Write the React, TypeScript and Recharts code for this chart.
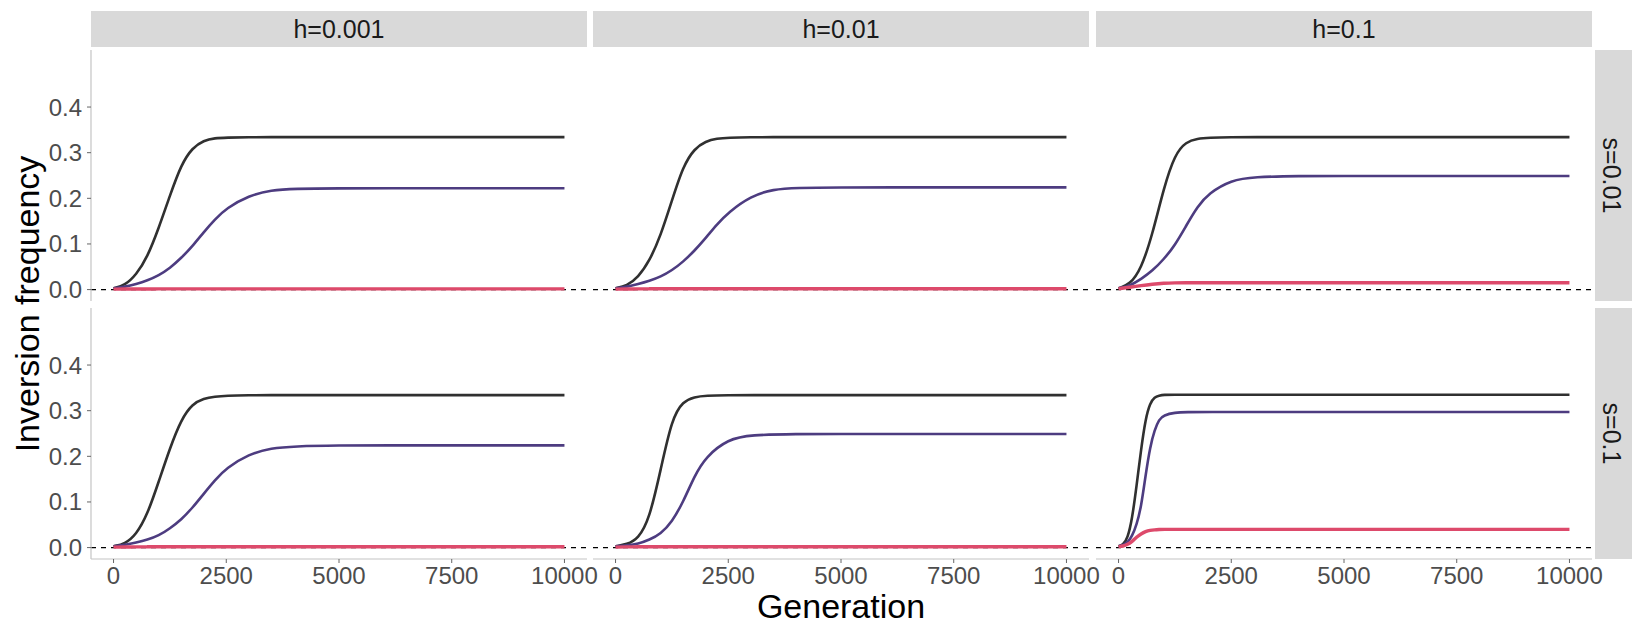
import React from 'react';
import { LineChart, Line, XAxis, YAxis, ReferenceLine } from 'recharts';

const FONT = '"Liberation Sans", Arial, Helvetica, sans-serif';

const H_LABELS = ['h=0.001', 'h=0.01', 'h=0.1'];
const S_LABELS = ['s=0.01', 's=0.1'];
const X_TICKS = [0, 2500, 5000, 7500, 10000];
const Y_TICKS = [0, 0.1, 0.2, 0.3, 0.4];
const X_DOMAIN = [-500, 10500];
const Y_DOMAIN = [-0.025, 0.525];

const GENS_A = [0, 250, 500, 750, 1000, 1250, 1500, 1750, 2000, 2250, 2500, 3000, 3500, 4000, 5000, 6000, 8000, 10000];
const GENS_B = [0, 250, 500, 750, 1000, 1250, 1500, 1750, 2000, 2500, 3000, 4000, 5000, 6000, 8000, 10000];
const GENS_C = [0, 100, 200, 300, 400, 500, 600, 700, 800, 900, 1000, 1250, 1500, 2000, 3000, 5000, 7500, 10000];

// s=0.01, h=0.001
const S1H1_BLACK = [0.003, 0.009, 0.032, 0.071, 0.134, 0.206, 0.274, 0.311, 0.327, 0.332, 0.333, 0.334, 0.334, 0.334, 0.334, 0.334, 0.334, 0.334];
const S1H1_PURPLE = [0.003, 0.006, 0.012, 0.02, 0.031, 0.047, 0.069, 0.095, 0.126, 0.154, 0.178, 0.206, 0.218, 0.221, 0.222, 0.222, 0.222, 0.222];
const S1H1_PINK = [0.001, 0.0012, 0.0013, 0.0014, 0.0015, 0.0015, 0.0015, 0.0015, 0.0015, 0.0015, 0.0015, 0.0015, 0.0015, 0.0015, 0.0015, 0.0015, 0.0015, 0.0015];
// s=0.01, h=0.01
const S1H2_BLACK = [0.003, 0.008, 0.027, 0.062, 0.118, 0.195, 0.271, 0.309, 0.325, 0.331, 0.333, 0.334, 0.334, 0.334, 0.334, 0.334, 0.334, 0.334];
const S1H2_PURPLE = [0.003, 0.006, 0.012, 0.019, 0.028, 0.042, 0.061, 0.085, 0.113, 0.143, 0.169, 0.205, 0.22, 0.223, 0.224, 0.224, 0.224, 0.224];
const S1H2_PINK = [0.001, 0.0013, 0.0015, 0.0017, 0.0018, 0.0019, 0.002, 0.002, 0.002, 0.002, 0.002, 0.002, 0.002, 0.002, 0.002, 0.002, 0.002, 0.002];
// s=0.01, h=0.1
const S1H3_BLACK = [0.003, 0.011, 0.045, 0.12, 0.222, 0.297, 0.324, 0.331, 0.333, 0.334, 0.334, 0.334, 0.334, 0.334, 0.334, 0.334];
const S1H3_PURPLE = [0.003, 0.008, 0.023, 0.041, 0.066, 0.097, 0.14, 0.182, 0.211, 0.24, 0.247, 0.249, 0.249, 0.249, 0.249, 0.249];
const S1H3_PINK = [0.002, 0.005, 0.009, 0.012, 0.014, 0.0148, 0.015, 0.015, 0.015, 0.015, 0.015, 0.015, 0.015, 0.015, 0.015, 0.015];
// s=0.1, h=0.001
const S2H1_BLACK = [0.003, 0.008, 0.028, 0.072, 0.144, 0.218, 0.281, 0.315, 0.327, 0.331, 0.333, 0.334, 0.334, 0.334, 0.334, 0.334, 0.334, 0.334];
const S2H1_PURPLE = [0.003, 0.006, 0.011, 0.017, 0.026, 0.042, 0.061, 0.087, 0.118, 0.148, 0.174, 0.205, 0.218, 0.222, 0.224, 0.224, 0.224, 0.224];
const S2H1_PINK = [0.001, 0.0013, 0.0015, 0.0017, 0.0018, 0.0019, 0.002, 0.002, 0.002, 0.002, 0.002, 0.002, 0.002, 0.002, 0.002, 0.002, 0.002, 0.002];
// s=0.1, h=0.01
const S2H2_BLACK = [0.003, 0.007, 0.019, 0.062, 0.17, 0.283, 0.321, 0.33, 0.333, 0.334, 0.334, 0.334, 0.334, 0.334, 0.334, 0.334];
const S2H2_PURPLE = [0.003, 0.005, 0.008, 0.017, 0.03, 0.056, 0.1, 0.157, 0.199, 0.238, 0.247, 0.249, 0.249, 0.249, 0.249, 0.249];
const S2H2_PINK = [0.001, 0.0015, 0.0018, 0.002, 0.002, 0.002, 0.002, 0.002, 0.002, 0.002, 0.002, 0.002, 0.002, 0.002, 0.002, 0.002];
// s=0.1, h=0.1
const S2H3_BLACK = [0.003, 0.006, 0.02, 0.062, 0.135, 0.216, 0.283, 0.317, 0.33, 0.333, 0.335, 0.335, 0.335, 0.335, 0.335, 0.335, 0.335, 0.335];
const S2H3_PURPLE = [0.003, 0.005, 0.011, 0.025, 0.05, 0.088, 0.159, 0.221, 0.258, 0.281, 0.29, 0.296, 0.297, 0.297, 0.297, 0.297, 0.297, 0.297];
const S2H3_PINK = [0.002, 0.003, 0.007, 0.013, 0.023, 0.03, 0.0355, 0.038, 0.039, 0.0395, 0.04, 0.04, 0.04, 0.04, 0.04, 0.04, 0.04, 0.04];

const COLORS = { black: '#303030', purple: '#4D3C80', pink: '#DD4A6B' };

type Pt = { g: number; v: number };
const toSeries = (gens: number[], vals: number[]): Pt[] => gens.map((g, i) => ({ g, v: vals[i] }));

const PANELS = [
  [
    { gens: GENS_A, black: S1H1_BLACK, purple: S1H1_PURPLE, pink: S1H1_PINK },
    { gens: GENS_A, black: S1H2_BLACK, purple: S1H2_PURPLE, pink: S1H2_PINK },
    { gens: GENS_B, black: S1H3_BLACK, purple: S1H3_PURPLE, pink: S1H3_PINK },
  ],
  [
    { gens: GENS_A, black: S2H1_BLACK, purple: S2H1_PURPLE, pink: S2H1_PINK },
    { gens: GENS_B, black: S2H2_BLACK, purple: S2H2_PURPLE, pink: S2H2_PINK },
    { gens: GENS_C, black: S2H3_BLACK, purple: S2H3_PURPLE, pink: S2H3_PINK },
  ],
];

const COL_LEFT = [91, 593, 1096];
const PANEL_W = 496;
const ROW_TOP = [50, 308];
const PANEL_H = 251;
const Y_AXIS_W = 60;
const X_AXIS_H = 50;
const RIGHT_PAD = 40;
const TOP_PAD = 12;
const BOTTOM_PAD_TOP_ROW = 6;

const AXIS_LINE = { stroke: '#C4C4C4', strokeWidth: 1.2 };
const TICK_LINE = { stroke: '#666666', strokeWidth: 1 };
const TICK_TEXT = { fill: '#4D4D4D', fontSize: 24, fontFamily: FONT };

function Panel({ r, c }: { r: number; c: number }) {
  const p = PANELS[r][c];
  const showY = c === 0;
  const showX = r === 1;
  const left = COL_LEFT[c] - (showY ? Y_AXIS_W : 0);
  const width = PANEL_W + (showY ? Y_AXIS_W : 0) + RIGHT_PAD;
  const bottomPad = showX ? 0 : BOTTOM_PAD_TOP_ROW;
  const height = TOP_PAD + PANEL_H + (showX ? X_AXIS_H : 0) + bottomPad;
  return (
    <div style={{ position: 'absolute', left, top: ROW_TOP[r] - TOP_PAD, width, height }}>
      <LineChart width={width} height={height} margin={{ top: TOP_PAD, right: RIGHT_PAD, bottom: bottomPad, left: 0 }}>
        <XAxis
          dataKey="g"
          type="number"
          domain={X_DOMAIN}
          ticks={X_TICKS}
          allowDataOverflow
          interval={0}
          hide={!showX}
          height={X_AXIS_H}
          tickSize={4}
          tickMargin={4}
          axisLine={AXIS_LINE}
          tickLine={TICK_LINE}
          tick={TICK_TEXT}
        />
        <YAxis
          dataKey="v"
          type="number"
          domain={Y_DOMAIN}
          ticks={Y_TICKS}
          allowDataOverflow
          interval={0}
          hide={!showY}
          width={Y_AXIS_W}
          tickSize={4}
          tickMargin={5}
          axisLine={AXIS_LINE}
          tickLine={TICK_LINE}
          tick={TICK_TEXT}
          tickFormatter={(v: number) => v.toFixed(1)}
        />
        <ReferenceLine y={0} stroke="#000000" strokeWidth={1.2} strokeDasharray="5 5" />
        <Line data={toSeries(p.gens, p.black)} dataKey="v" type="basis" stroke={COLORS.black} strokeWidth={2.6} dot={false} isAnimationActive={false} />
        <Line data={toSeries(p.gens, p.purple)} dataKey="v" type="basis" stroke={COLORS.purple} strokeWidth={2.6} dot={false} isAnimationActive={false} />
        <Line data={toSeries(p.gens, p.pink)} dataKey="v" type="basis" stroke={COLORS.pink} strokeWidth={3.4} dot={false} isAnimationActive={false} />
      </LineChart>
    </div>
  );
}

export default function App() {
  const stripX = 1595;
  return (
    <div style={{ position: 'absolute', left: 0, top: 0, width: 1632, height: 624, overflow: 'hidden', background: '#FFFFFF' }}>
      {[0, 1].map((r) => [0, 1, 2].map((c) => <Panel key={`${r}-${c}`} r={r} c={c} />))}
      <svg width={1632} height={624} style={{ position: 'absolute', left: 0, top: 0, pointerEvents: 'none' }}>
        {H_LABELS.map((lab, c) => (
          <g key={lab}>
            <rect x={COL_LEFT[c]} y={11} width={PANEL_W} height={36} fill="#D9D9D9" />
            <text x={COL_LEFT[c] + PANEL_W / 2} y={38} textAnchor="middle" fontSize={25} fontFamily={FONT} fill="#1A1A1A">{lab}</text>
          </g>
        ))}
        {S_LABELS.map((lab, r) => {
          const cy = ROW_TOP[r] + PANEL_H / 2;
          return (
            <g key={lab}>
              <rect x={stripX} y={ROW_TOP[r]} width={40} height={PANEL_H} fill="#D9D9D9" />
              <text x={1603} y={cy} transform={`rotate(90, 1603, ${cy})`} textAnchor="middle" fontSize={25} fontFamily={FONT} fill="#1A1A1A">{lab}</text>
            </g>
          );
        })}
        <text x={39} y={304} transform="rotate(-90, 39, 304)" textAnchor="middle" fontSize={34} fontFamily={FONT} fill="#000000">Inversion frequency</text>
        <text x={841} y={618} textAnchor="middle" fontSize={34} fontFamily={FONT} fill="#000000">Generation</text>
      </svg>
    </div>
  );
}
